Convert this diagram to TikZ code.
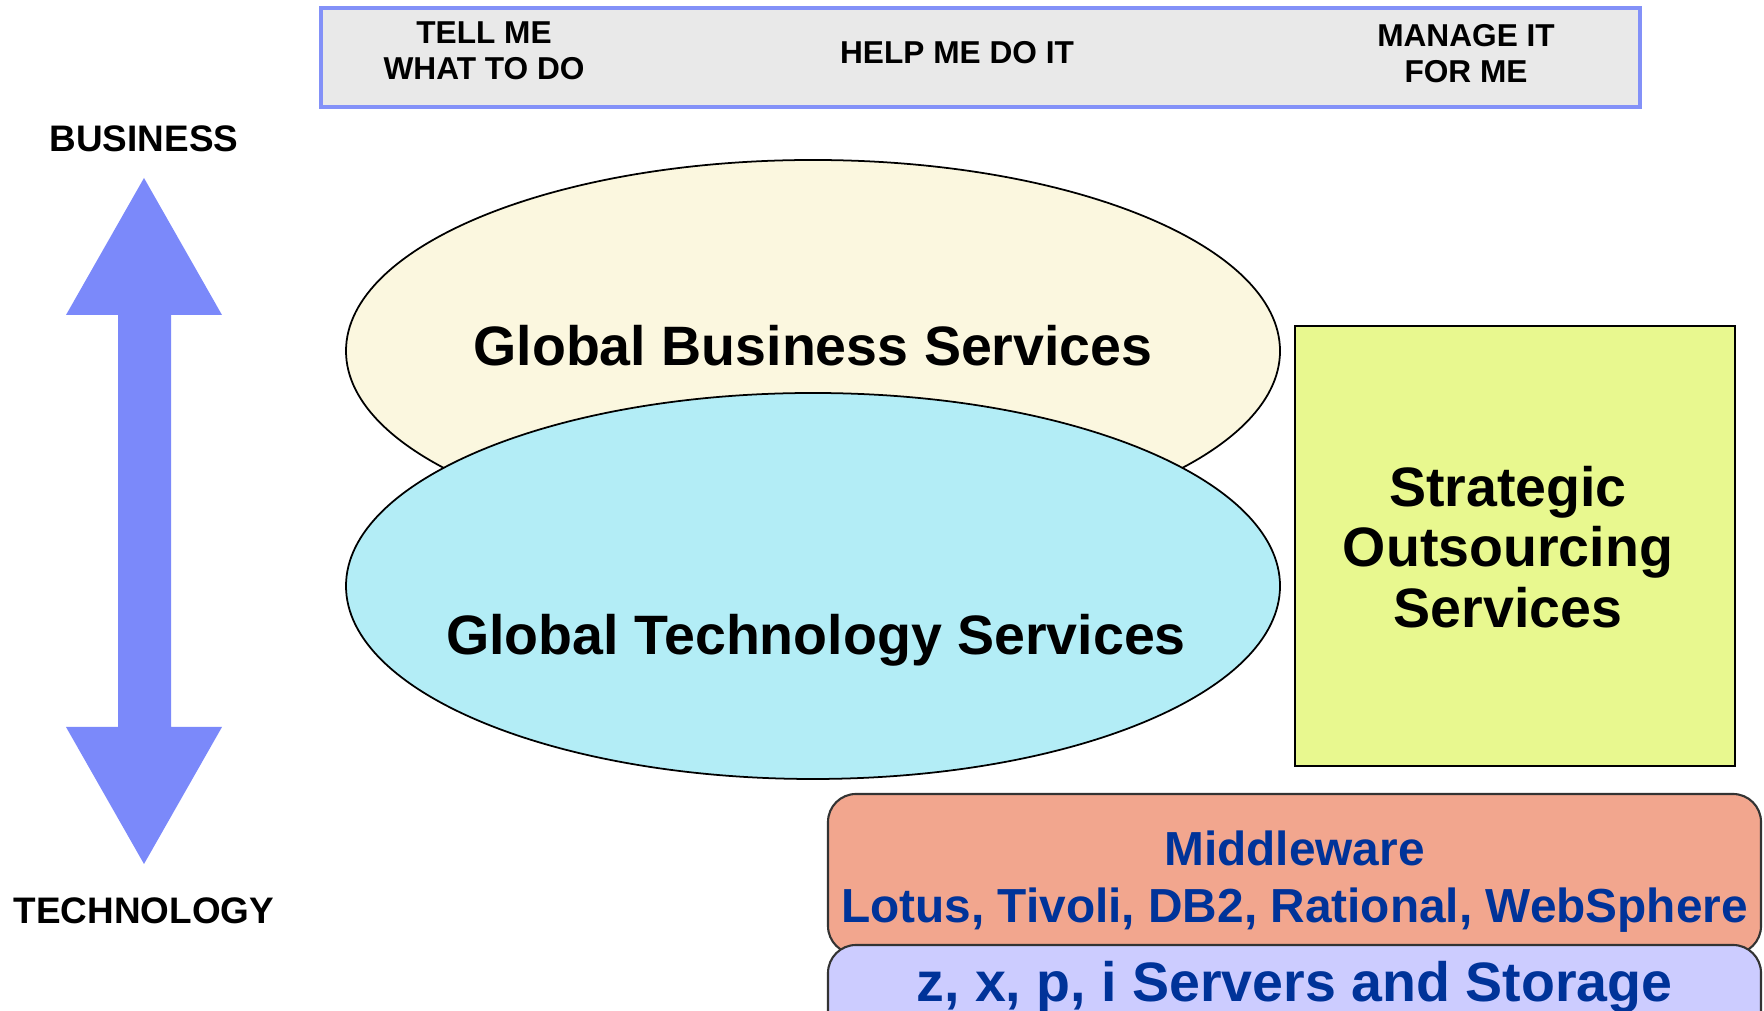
\documentclass[tikz,border=0pt]{standalone}
\usepackage{fontspec}
\setmainfont{Liberation Sans}
\usepackage{tikz}
\usetikzlibrary{shapes.geometric,positioning}
\usepackage{xcolor}

\definecolor{barfill}{HTML}{E9E9E9}
\definecolor{barline}{HTML}{8391F8}
\definecolor{arrowblue}{HTML}{7B89FA}
\definecolor{gbsfill}{HTML}{FBF7DF}
\definecolor{gtsfill}{HTML}{B3EDF6}
\definecolor{sofill}{HTML}{E8F88F}
\definecolor{mwfill}{HTML}{F2A68E}
\definecolor{srvfill}{HTML}{CCCCFF}
\definecolor{ibmblue}{HTML}{003399}

\begin{document}
\begin{tikzpicture}[
        toplabel/.style={align=center, font=\fontsize{9}{10.2}\selectfont\bfseries},
        sidelabel/.style={font=\fontsize{10.5}{12}\selectfont\bfseries},
        bigtext/.style={align=center, font=\fontsize{15.8}{17.3}\selectfont\bfseries},
        oval/.style={ellipse, draw, line width=0.5pt, inner sep=0pt, minimum width=9.34cm},
        layer/.style={draw=black!80, line width=0.6pt, rounded corners=0.28cm, minimum width=9.33cm, inner sep=0pt}
    ]
        \useasboundingbox (0,0) rectangle (17.64,10.11);
        \clip (0,0) rectangle (17.64,10.11);

        % top bar
        \node[draw=barline, fill=barfill, line width=0.9pt, minimum width=13.19cm, minimum height=0.99cm] (bar) at (9.805,9.535) {};
        \node[toplabel] (tell) at (4.84,9.60) {TELL ME\\WHAT TO DO};
        \node[toplabel] (help) at (9.57,9.58) {HELP ME DO IT};
        \node[toplabel] (manage) at (14.66,9.575) {MANAGE IT\\FOR ME};

        % business / technology arrow
        \node[sidelabel] (business) at (1.44,8.72) {BUSINESS};
        \node[sidelabel] (technology) at (1.44,1.00) {TECHNOLOGY};
        \fill[arrowblue]
            (1.44,8.33) -- (2.22,6.96) -- (1.71,6.96) -- (1.71,2.84)
            -- (2.22,2.84) -- (1.44,1.47) -- (0.66,2.84) -- (1.18,2.84)
            -- (1.18,6.96) -- (0.66,6.96) -- cycle;

        % services
        \node[oval, fill=gbsfill, minimum height=3.82cm] (gbs) at (8.13,6.60) {};
        \node[bigtext] (gbstext) at (8.13,6.65) {Global Business Services};
        \node[oval, fill=gtsfill, minimum height=3.86cm] (gts) at (8.13,4.25) {};
        \node[bigtext] (gtstext) at (8.16,3.71) {Global Technology Services};

        \node[draw, fill=sofill, line width=0.6pt, minimum width=4.40cm, minimum height=4.40cm] (so) at (15.15,4.65) {};
        \node[bigtext] (sotext) at (15.08,4.64) {Strategic\\Outsourcing\\Services};

        % software and hardware
        \node[layer, fill=mwfill, minimum height=1.60cm] (mw) at (12.945,1.37) {};
        \node[align=center, text=ibmblue, font=\fontsize{13.6}{16.3}\selectfont\bfseries] (mwtext) at (12.945,1.29)
            {Middleware\\Lotus, Tivoli, DB2, Rational, WebSphere};
        \node[layer, fill=srvfill, minimum height=1.40cm] (srv) at (12.945,-0.04) {};
        \node[bigtext, text=ibmblue] (srvtext) at (12.945,0.235) {z, x, p, i Servers and Storage};
    \end{tikzpicture}
\end{document}
